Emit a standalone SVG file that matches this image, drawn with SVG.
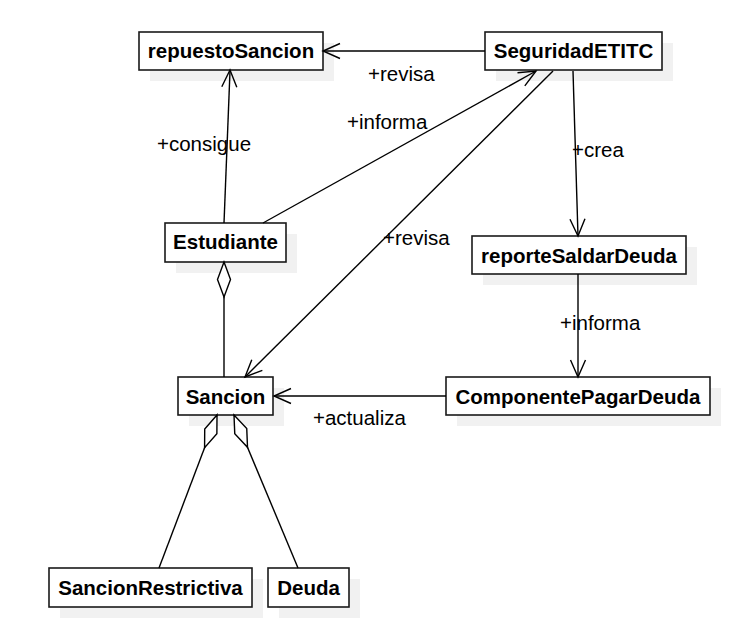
<svg xmlns="http://www.w3.org/2000/svg" width="733" height="628" viewBox="0 0 733 628">
<style>
  .shadow { fill: #f1f1f1; stroke: none; }
  .box { fill: #ffffff; stroke: #1a1a1a; stroke-width: 1.6; }
  .title { font-family: "Liberation Sans", Arial, sans-serif; font-weight: bold; font-size: 20.5px; fill: #000; text-anchor: middle; }
  .lbl { font-family: "Liberation Sans", Arial, sans-serif; font-size: 20.5px; fill: #000; }
  .edge { fill: none; stroke: #000; stroke-width: 1.4; }
  .head { fill: none; stroke: #000; stroke-width: 1.4; stroke-linejoin: miter; }
  .dia { fill: #ffffff; stroke: #000; stroke-width: 1.4; }
</style>
<rect width="733" height="628" fill="#ffffff"/>

<g id="repuestoSancion">
  <rect class="shadow" x="150" y="43" width="184" height="38"/>
  <rect class="box" x="139" y="32" width="184" height="38"/>
  <text class="title" x="231" y="58">repuestoSancion</text>
</g>
<g id="SeguridadETITC">
  <rect class="shadow" x="496" y="43" width="177" height="38"/>
  <rect class="box" x="485" y="32" width="177" height="38"/>
  <text class="title" x="573.5" y="58">SeguridadETITC</text>
</g>
<g id="Estudiante">
  <rect class="shadow" x="176" y="234" width="121" height="39"/>
  <rect class="box" x="165" y="223" width="121" height="39"/>
  <text class="title" x="225.5" y="249">Estudiante</text>
</g>
<g id="reporteSaldarDeuda">
  <rect class="shadow" x="483" y="247" width="214" height="38"/>
  <rect class="box" x="472" y="236" width="214" height="38"/>
  <text class="title" x="579" y="263">reporteSaldarDeuda</text>
</g>
<g id="Sancion">
  <rect class="shadow" x="189" y="388" width="95" height="38"/>
  <rect class="box" x="178" y="377" width="95" height="38"/>
  <text class="title" x="225.5" y="404">Sancion</text>
</g>
<g id="ComponentePagarDeuda">
  <rect class="shadow" x="457" y="388" width="264" height="38"/>
  <rect class="box" x="446" y="377" width="264" height="38"/>
  <text class="title" x="578" y="404">ComponentePagarDeuda</text>
</g>
<g id="SancionRestrictiva">
  <rect class="shadow" x="60" y="579" width="203" height="39"/>
  <rect class="box" x="49" y="568" width="203" height="39"/>
  <text class="title" x="150.5" y="595">SancionRestrictiva</text>
</g>
<g id="Deuda">
  <rect class="shadow" x="279" y="579" width="81" height="39"/>
  <rect class="box" x="268" y="568" width="81" height="39"/>
  <text class="title" x="308.5" y="595">Deuda</text>
</g>

<g id="connectors">
  <line class="edge" x1="485" y1="51" x2="324" y2="51"/>
  <polyline class="head" points="340,43.5 323,51 340,58.5"/>

  <line class="edge" x1="224" y1="223" x2="230" y2="71"/>
  <polyline class="head" points="236.8,87.3 230,70 221.8,86.7"/>

  <line class="edge" x1="263" y1="223" x2="536" y2="71"/>
  <polyline class="head" points="524.8,85.8 536,71 517.5,72.7"/>

  <line class="edge" x1="553" y1="71" x2="245" y2="377"/>
  <polyline class="head" points="262.35,370.34 245,377 251.77,359.7"/>

  <line class="edge" x1="573" y1="71" x2="578" y2="236"/>
  <polyline class="head" points="584.98,218.78 578,236 569.98,219.24"/>

  <line class="edge" x1="578" y1="274" x2="578" y2="377"/>
  <polyline class="head" points="570.5,360 578,377 585.5,360"/>

  <line class="edge" x1="446" y1="396" x2="274" y2="396"/>
  <polyline class="head" points="291,388.5 274,396 291,403.5"/>

  <line class="edge" x1="224" y1="262" x2="224" y2="377"/>
  <polygon class="dia" points="224,262 230.5,279.5 224,297 217.5,279.5"/>

  <line class="edge" x1="217" y1="415" x2="159" y2="568"/>
  <polygon class="dia" points="217,415 216.88,433.67 204.59,447.73 204.72,429.07"/>

  <line class="edge" x1="234" y1="415" x2="298" y2="568"/>
  <polygon class="dia" points="234,415 246.75,428.63 247.51,447.29 234.75,433.65"/>

  <text class="lbl" x="368" y="81">+revisa</text>
  <text class="lbl" x="157" y="151">+consigue</text>
  <text class="lbl" x="347" y="129">+informa</text>
  <text class="lbl" x="383" y="245">+revisa</text>
  <text class="lbl" x="572" y="157">+crea</text>
  <text class="lbl" x="560" y="330">+informa</text>
  <text class="lbl" x="313" y="425">+actualiza</text>
</g>
</svg>
